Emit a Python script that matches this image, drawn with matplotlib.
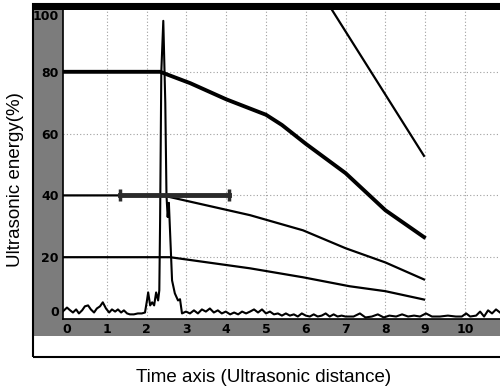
import matplotlib
matplotlib.use("Agg")
import matplotlib.pyplot as plt
from matplotlib.patches import Rectangle

# DAC 곡선들 (x: 시간축 눈금, y: %)
dac80_x = [-0.1, 2.34, 3.1, 4.0, 5.0, 5.4, 6.0, 7.0, 8.0, 8.97]
dac80_y = [80, 80, 76.3, 71.1, 66.1, 62.8, 56.7, 47.2, 35.2, 26.5]
dac40_x = [-0.1, 2.4, 4.6, 5.93, 7.0, 8.0, 8.97]
dac40_y = [40, 40, 33.6, 28.7, 22.9, 18.3, 12.8]
dac20_x = [-0.1, 2.59, 4.6, 5.93, 7.1, 8.0, 8.97]
dac20_y = [20, 20, 16.4, 13.5, 10.6, 9.0, 6.3]
steep_x = [6.66, 8.97]
steep_y = [100, 52.8]

# 게이트
gate_x = [1.33, 4.07]
gate_y = [40, 40]

# A-scan 신호
sig_x = [-0.1, 0.0, 0.08, 0.15, 0.23, 0.3, 0.38, 0.45, 0.53, 0.6, 0.68, 0.75, 0.83,
         0.9, 0.98, 1.06, 1.13, 1.21, 1.28, 1.36, 1.43, 1.51, 1.58, 1.68, 1.78, 1.88,
         1.96, 2.01, 2.04, 2.09, 2.14, 2.19, 2.24, 2.29, 2.32, 2.34, 2.37, 2.42, 2.47,
         2.50, 2.53, 2.56, 2.61, 2.64, 2.71, 2.79, 2.84, 2.89, 2.99, 3.09, 3.19, 3.29,
         3.39, 3.49, 3.59, 3.69, 3.79, 3.89, 3.99, 4.1, 4.2, 4.3, 4.4, 4.5, 4.6, 4.7,
         4.8, 4.9, 5.0, 5.1, 5.2, 5.3, 5.4, 5.5, 5.6, 5.7, 5.8, 5.9, 6.0, 6.1, 6.2,
         6.3, 6.4, 6.5, 6.6, 6.7, 6.8, 6.9, 7.0, 7.2, 7.36, 7.5, 7.66, 7.81, 7.96,
         8.1, 8.27, 8.42, 8.57, 8.72, 8.87, 9.02, 9.17, 9.37, 9.57, 9.77, 9.92, 10.03,
         10.13, 10.28, 10.38, 10.48, 10.58, 10.68, 10.78, 10.88]
sig_y = [2.5, 3.7, 2.8, 2.1, 3.1, 1.8, 2.8, 4.1, 4.4, 3.1, 2.1, 3.4, 4.1,
         5.4, 3.4, 2.1, 3.1, 2.4, 3.1, 2.1, 2.8, 1.8, 1.5, 1.5, 1.8, 1.8,
         2.1, 6.0, 8.6, 4.4, 5.4, 4.4, 8.6, 6.0, 9.3, 32, 80, 96.5, 70,
         40, 33, 37.6, 22, 12.5, 8.3, 6.0, 6.4, 1.8, 2.4, 1.8, 2.8, 1.8,
         3.1, 2.4, 3.4, 2.1, 2.8, 1.8, 2.4, 1.5, 2.1, 1.5, 2.4, 1.8, 2.4, 3.1,
         2.1, 3.1, 1.8, 2.4, 1.5, 1.8, 1.1, 1.8, 1.1, 1.5, 0.8, 1.8, 1.1, 0.8, 1.5,
         0.8, 1.1, 1.8, 0.8, 1.5, 0.8, 1.1, 0.8, 0.8, 1.8, 0.5, 0.8, 1.5, 0.5,
         1.1, 0.8, 1.5, 0.8, 1.1, 0.8, 1.8, 0.8, 0.8, 1.1, 0.8, 0.8, 1.8,
         0.8, 1.1, 2.4, 0.8, 2.8, 1.8, 3.1, 2.1]

x_ticks = list(range(11))
y_ticks = [0, 20, 40, 60, 80, 100]

W, H = 500, 388


def box(x0, y0, x1, y1):
    # 픽셀(위가 0) -> figure 좌표
    return (x0 / W, 1 - y1 / H), (x1 - x0) / W, (y1 - y0) / H


plt.rcParams["font.family"] = ["Liberation Sans", "DejaVu Sans"]
fig = plt.figure(figsize=(5, 3.88), dpi=100)

grey = "#7c7c7c"
for (x0, y0, x1, y1), fc in (((33, 4, 63, 336), grey), ((63, 319, 502, 336), grey),
                             ((33, 4, 502, 10), "black")):
    xy, w, h = box(x0, y0, x1, y1)
    fig.add_artist(Rectangle(xy, w, h, transform=fig.transFigure, fc=fc, ec="none", zorder=-2))
xy, w, h = box(33, 4, 502, 357)
fig.add_artist(Rectangle(xy, w, h, transform=fig.transFigure, fc="none", ec="black", lw=1.5, zorder=-1))

pos = box(63, 10, 500, 319)
ax = fig.add_axes([pos[0][0], pos[0][1], pos[1], pos[2]])
ax.set_xlim(-0.1, 10.88)
ax.set_ylim(0, 100)
for s in ("top", "right"):
    ax.spines[s].set_visible(False)
for s in ("left", "bottom"):
    ax.spines[s].set_linewidth(1.2)

ax.set_xticks(x_ticks)
ax.set_yticks(y_ticks)
ax.tick_params(length=0, pad=3)
ax.set_xticklabels([str(t) for t in x_ticks], fontsize=9, fontweight="bold", family="DejaVu Sans")
ax.set_yticklabels([str(t) for t in y_ticks], fontsize=9, fontweight="bold", family="DejaVu Sans")
ylabs = ax.get_yticklabels()
ylabs[0].set_va("bottom")
ylabs[-1].set_va("top")

ax.set_axisbelow(True)
ax.grid(True, color="#a0a0a0", ls=(0, (1, 2)), lw=0.8)
ax.get_xgridlines()[0].set_visible(False)
ax.get_ygridlines()[0].set_visible(False)
ax.get_ygridlines()[-1].set_visible(False)

ax.plot(sig_x, sig_y, color="black", lw=1.5, zorder=3)
ax.plot(dac80_x, dac80_y, color="black", lw=2.8, zorder=4)
ax.plot(dac40_x, dac40_y, color="black", lw=1.6, zorder=4)
ax.plot(dac20_x, dac20_y, color="black", lw=1.6, zorder=4)
ax.plot(steep_x, steep_y, color="black", lw=1.6, zorder=4)
ax.plot(gate_x, gate_y, color="#2a2a2a", lw=3.5, marker="|", ms=9, mew=2.5, zorder=5)

fig.text(264 / W, 1 - 377 / H, "Time axis (Ultrasonic distance)", fontsize=13.5,
         ha="center", va="center")
fig.text(16 / W, 1 - 180 / H, "Ultrasonic energy(%)", fontsize=13.5, rotation=90,
         ha="center", va="center")

fig.savefig("out.png", dpi=100)
